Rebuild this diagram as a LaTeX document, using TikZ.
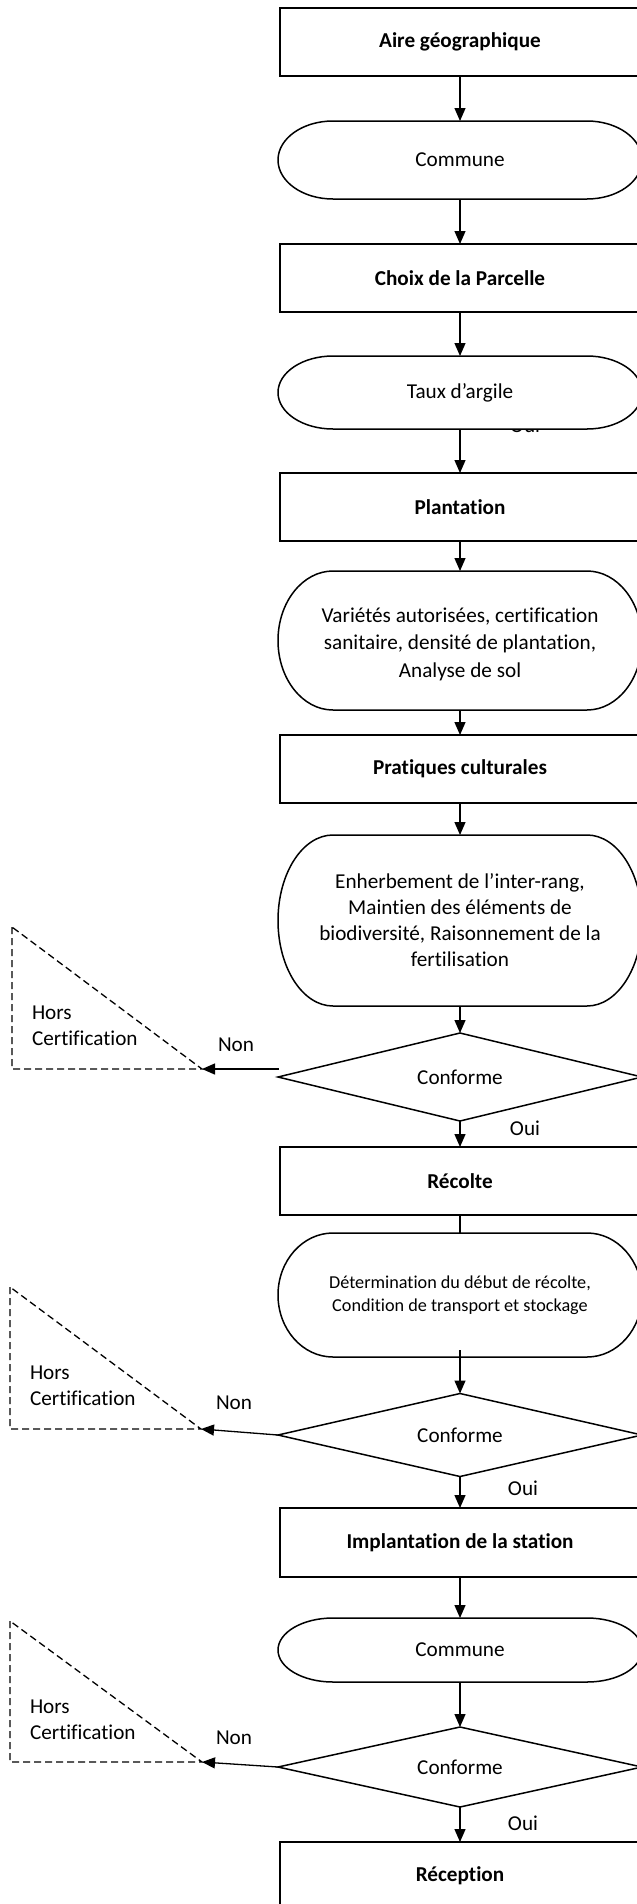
\documentclass[tikz,border=0pt]{standalone}
\usepackage{fontspec}
\setmainfont{Carlito}[Ligatures=NoCommon]
\usetikzlibrary{arrows.meta,calc}
\newcommand\termshape[3]{%
  \pgfmathsetmacro\termry{#3/2}%
  \draw[shapeline,fill=white] ({#1-127},{#2-#3/2}) -- ({#1+127},{#2-#3/2})
    arc[start angle=90,end angle=-90,x radius=55pt,y radius=\termry pt]
    -- ({#1-127},{#2+#3/2})
    arc[start angle=270,end angle=90,x radius=55pt,y radius=\termry pt] -- cycle;}
\newcommand\diashape[3]{%
  \draw[shapeline,fill=white] ({#1-182},#2) -- (#1,{#2-#3/2}) -- ({#1+182},#2) -- (#1,{#2+#3/2}) -- cycle;}
\begin{document}
\begin{tikzpicture}[x=1pt,y=-1pt,
  shapeline/.style={line width=1.5pt, draw=black},
  boxnode/.style={draw, line width=1.5pt, minimum width=360pt, minimum height=68pt, inner sep=0pt, outer sep=0pt, font=\fontsize{21.2}{26}\selectfont\bfseries},
  txtnode/.style={draw=none, inner sep=0pt, outer sep=0pt, minimum width=364pt, align=center, font=\fontsize{21.2}{27.5}\selectfont},
  smalltxt/.style={txtnode, font=\fontsize{18.2}{23}\selectfont},
  conn/.style={line width=1.3pt, -{Triangle[length=13pt,width=11pt]}},
  plainconn/.style={line width=1.3pt},
  dashline/.style={line width=1.3pt, dash pattern=on 7pt off 4pt},
  lbl/.style={font=\fontsize{21.2}{26}\selectfont, inner sep=0pt, outer sep=0pt},
]
\useasboundingbox (0,0) rectangle (637,1904);
\clip (0,0) rectangle (637,1904);

% main column
\node[boxnode] (b1) at (460,42) {Aire géographique};
\termshape{460}{160}{78}
\node[txtnode, minimum height=78pt] (t1) at (460,160) {Commune};
\node[boxnode] (b2) at (460,278) {Choix de la Parcelle};
\node[lbl] (ouihid) at (525,425.5) {Oui};
\termshape{460}{392.5}{73}
\node[txtnode, minimum height=73pt] (t2) at (460,392.5) {Taux d’argile};
\node[boxnode] (b3) at (460,507) {Plantation};
\termshape{460}{640.5}{139}
\node[txtnode, minimum height=139pt] (t3) at (460,644) {Variétés autorisées, certification\\sanitaire, densité de plantation,\\Analyse de sol};
\node[boxnode] (b4) at (460,769) {Pratiques culturales};
\termshape{460}{920.5}{171}
\node[txtnode, minimum height=171pt, font=\fontsize{21.2}{26}\selectfont] (t4) at (460,920.5) {Enherbement de l’inter-rang,\\Maintien des éléments de\\biodiversité, Raisonnement de la\\fertilisation};
\diashape{460}{1077}{88}
\node[txtnode, minimum height=88pt] (d1) at (460,1077) {Conforme};
\node[boxnode] (b5) at (460,1181) {Récolte};
\termshape{460}{1295}{124}
\node[smalltxt, minimum height=124pt] (t5) at (460,1295) {Détermination du début de récolte,\\Condition de transport et stockage};
\diashape{460}{1435}{83}
\node[txtnode, minimum height=83pt] (d2) at (460,1435) {Conforme};
\node[boxnode, minimum height=69pt] (b6) at (460,1542.5) {Implantation de la station};
\termshape{460}{1650}{64}
\node[txtnode, minimum height=64pt] (t6) at (460,1650) {Commune};
\diashape{460}{1767}{80}
\node[txtnode, minimum height=80pt] (d3) at (460,1767) {Conforme};
\node[boxnode] (b7) at (460,1876) {Réception};

% connectors
\draw[conn] (b1) -- (t1);
\draw[conn] (t1) -- (b2);
\draw[conn] (b2) -- (t2);
\draw[conn] (t2) -- (b3);
\draw[conn] (b3) -- (t3.north |- 0,571);
\draw[conn] (t3.south |- 0,710) -- (b4);
\draw[conn] (b4) -- (t4);
\draw[conn] (t4) -- (d1);
\draw[conn] (d1) -- (b5);
\draw[plainconn] (b5) -- (t5);
\coordinate (t5s) at ($(t5.south)+(0,-7)$);
\draw[conn] (t5s) -- (d2.north);
\draw[conn] (d2) -- (b6);
\draw[conn] (b6) -- (t6);
\draw[conn] (t6) -- (d3);
\draw[conn] (d3) -- (b7);

\node[lbl] (oui1) at (525,1128) {Oui};
\node[lbl] (oui2) at (523,1488) {Oui};
\node[lbl] (oui3) at (523,1823) {Oui};

% Hors certification triangles
\coordinate (h1a) at (12,927);
\coordinate (h1b) at (12,1069);
\coordinate (h1c) at (202,1069);
\draw[dashline] (h1a) -- (h1b) -- (h1c) -- cycle;
\node[lbl, align=left, anchor=west] (hc1) at (32,1026) {Hors\\Certification};
\node[lbl] (non1) at (236,1045) {Non};
\draw[conn] ($(d1.west)+(1,-8)$) -- (h1c);

\coordinate (h2a) at (10,1287);
\coordinate (h2b) at (10,1429);
\coordinate (h2c) at (201,1429);
\draw[dashline] (h2a) -- (h2b) -- (h2c) -- cycle;
\node[lbl, align=left, anchor=west] (hc2) at (30,1386) {Hors\\Certification};
\node[lbl] (non2) at (234,1403) {Non};
\draw[conn] (d2.west) -- (h2c);

\coordinate (h3a) at (10,1621);
\coordinate (h3b) at (10,1762);
\coordinate (h3c) at (202,1762);
\draw[dashline] (h3a) -- (h3b) -- (h3c) -- cycle;
\node[lbl, align=left, anchor=west] (hc3) at (30,1720) {Hors\\Certification};
\node[lbl] (non3) at (234,1738) {Non};
\draw[conn] (d3.west) -- (h3c);
\end{tikzpicture}
\end{document}
